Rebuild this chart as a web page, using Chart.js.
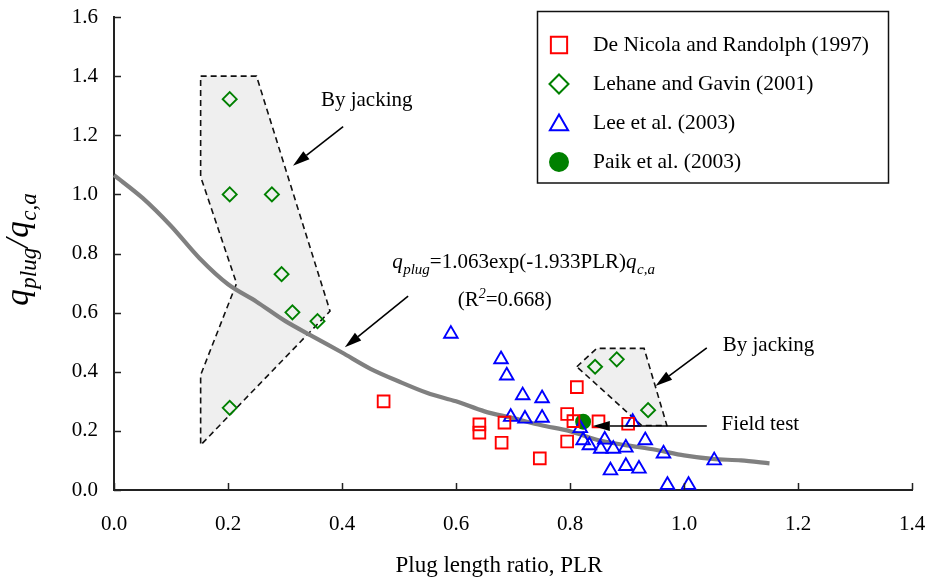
<!DOCTYPE html>
<html><head><meta charset="utf-8">
<script src="https://cdn.jsdelivr.net/npm/chart.js@4.4.1/dist/chart.umd.min.js"></script>
<style>html,body{margin:0;padding:0;background:#fff;}#wrap{width:928px;height:579px;position:relative;}</style>
</head><body><div id="wrap"><canvas id="c" width="928" height="579"></canvas></div>
<script>
// ---------------- data ----------------
const seriesNames = ['De Nicola and Randolph (1997)', 'Lehane and Gavin (2001)', 'Lee et al. (2003)', 'Paik et al. (2003)'];
const xTickLabels = ['0.0', '0.2', '0.4', '0.6', '0.8', '1.0', '1.2', '1.4'];
const yTickLabels = ['0.0', '0.2', '0.4', '0.6', '0.8', '1.0', '1.2', '1.4', '1.6'];

const deNicolaX = [0.473, 0.641, 0.641, 0.685, 0.680, 0.747, 0.812, 0.795, 0.806, 0.795, 0.850, 0.902];
const deNicolaY = [0.300, 0.222, 0.194, 0.228, 0.160, 0.107, 0.348, 0.257, 0.233, 0.164, 0.232, 0.224];

const lehaneX = [0.203, 0.203, 0.277, 0.294, 0.313, 0.357, 0.203, 0.844, 0.882, 0.937];
const lehaneY = [1.322, 1.000, 1.000, 0.730, 0.601, 0.571, 0.278, 0.417, 0.442, 0.270];

const leeX = [0.591, 0.679, 0.689, 0.717, 0.751, 0.696, 0.721, 0.751, 0.818, 0.823, 0.834, 0.861, 0.854, 0.876, 0.898, 0.910, 0.932, 0.964, 0.871, 0.898, 0.921, 1.053, 0.971, 1.008];
const leeY = [0.528, 0.442, 0.387, 0.320, 0.310, 0.247, 0.241, 0.244, 0.209, 0.168, 0.151, 0.170, 0.139, 0.139, 0.143, 0.230, 0.168, 0.123, 0.066, 0.081, 0.072, 0.100, 0.017, 0.017];

const paikX = [0.823];
const paikY = [0.231];

const fitX = [0.00, 0.05, 0.10, 0.15, 0.20, 0.25, 0.30, 0.35, 0.40, 0.45, 0.50, 0.55, 0.60, 0.65, 0.70, 0.75, 0.80, 0.85, 0.90, 0.95, 1.00, 1.05, 1.10, 1.15];
const fitY = [1.065, 0.988, 0.893, 0.784, 0.696, 0.637, 0.572, 0.518, 0.465, 0.410, 0.367, 0.328, 0.300, 0.266, 0.243, 0.219, 0.199, 0.168, 0.151, 0.136, 0.117, 0.105, 0.100, 0.090];

const jack1X = [0.152, 0.250, 0.379, 0.152, 0.152, 0.215, 0.152, 0.152];
const jack1Y = [1.400, 1.400, 0.605, 0.152, 0.389, 0.699, 1.060, 1.400];
const jack2X = [0.812, 0.847, 0.930, 0.970, 0.926, 0.812];
const jack2Y = [0.417, 0.479, 0.479, 0.218, 0.218, 0.417];

// ---------------- layout / styles ----------------
const SERIF = '"Liberation Serif", "Times New Roman", serif';
const zip = (xs, ys) => xs.map((x, i) => ({x: x, y: ys[i]}));

const notes = {
  arrows: [
    {from: [0.402, 1.229], to: [0.314, 1.097]},
    {from: [0.516, 0.656], to: [0.405, 0.483]},
    {from: [1.040, 0.481], to: [0.950, 0.352]},
    {from: [1.040, 0.2165], to: [0.840, 0.2165]}
  ],
  texts: [
    {t: 'By jacking', at: [0.363, 1.299]},
    {t: 'By jacking', at: [1.068, 0.470]},
    {t: 'Field test', at: [1.066, 0.203]}
  ],
  eqAt: [0.488, 0.751],
  r2At: [0.603, 0.622]
};

const markerStyles = [
  {pointStyle: 'rect', color: '#ff0000', fill: 'rgba(0,0,0,0)', r: 8.3, lr: 11.5},
  {pointStyle: 'rectRot', color: '#008000', fill: 'rgba(0,0,0,0)', r: 7, lr: 9.5},
  {pointStyle: 'triangle', color: '#0000ff', fill: 'rgba(0,0,0,0)', r: 7.8, lr: 10.5},
  {pointStyle: 'circle', color: '#008000', fill: '#008000', r: 7, lr: 9}
];
const seriesData = [zip(deNicolaX, deNicolaY), zip(lehaneX, lehaneY), zip(leeX, leeY), zip(paikX, paikY)];

const markerDatasets = seriesData.map((d, i) => ({
  type: 'scatter',
  label: seriesNames[i],
  data: d,
  pointStyle: markerStyles[i].pointStyle,
  pointRadius: markerStyles[i].r,
  pointHoverRadius: markerStyles[i].r,
  borderColor: markerStyles[i].color,
  backgroundColor: markerStyles[i].fill,
  pointBorderWidth: 1.9,
  borderWidth: 1.9,
  clip: false,
  order: i
}));

const polyStyle = {
  type: 'line', borderColor: '#111', borderWidth: 1.6, borderDash: [6, 4],
  backgroundColor: '#efefef', fill: 'shape', pointRadius: 0, tension: 0, clip: false, order: 20
};

const datasets = [
  ...markerDatasets,
  {type: 'line', label: 'fit', data: zip(fitX, fitY), borderColor: '#808080', borderWidth: 4.2,
   pointRadius: 0, fill: false, tension: 0.3, clip: false, order: 10},
  Object.assign({label: 'jack1', data: zip(jack1X, jack1Y)}, polyStyle),
  Object.assign({label: 'jack2', data: zip(jack2X, jack2Y)}, polyStyle)
];

function drawRich(ctx, x, y, segs) {
  let cx = x;
  segs.forEach(s => {
    ctx.font = s.f;
    ctx.fillText(s.t, cx, y + (s.dy || 0));
    cx += ctx.measureText(s.t).width + (s.gap || 0);
  });
  return cx - x;
}
function measureRich(ctx, segs) {
  let w = 0;
  segs.forEach(s => { ctx.font = s.f; w += ctx.measureText(s.t).width + (s.gap || 0); });
  return w;
}
function arrow(ctx, x1, y1, x2, y2) {
  const ang = Math.atan2(y2 - y1, x2 - x1);
  const L = 17, W = 5;
  const bx = x2 - L * Math.cos(ang), by = y2 - L * Math.sin(ang);
  ctx.strokeStyle = '#000'; ctx.lineWidth = 1.6; ctx.setLineDash([]);
  ctx.beginPath(); ctx.moveTo(x1, y1); ctx.lineTo(bx, by); ctx.stroke();
  ctx.fillStyle = '#000';
  ctx.beginPath();
  ctx.moveTo(x2, y2);
  ctx.lineTo(bx + W * Math.sin(ang), by - W * Math.cos(ang));
  ctx.lineTo(bx - W * Math.sin(ang), by + W * Math.cos(ang));
  ctx.closePath(); ctx.fill();
}

const decor = {
  id: 'decor',
  afterDraw(chart) {
    const ctx = chart.ctx, xs = chart.scales.x, ys = chart.scales.y, a = chart.chartArea;
    const P = (p) => [xs.getPixelForValue(p[0]), ys.getPixelForValue(p[1])];
    ctx.save();
    // inward ticks
    ctx.strokeStyle = '#222'; ctx.lineWidth = 1.5;
    xs.ticks.forEach(t => { const p = Math.round(xs.getPixelForValue(t.value)) + 0.5; ctx.beginPath(); ctx.moveTo(p, a.bottom); ctx.lineTo(p, a.bottom - 7); ctx.stroke(); });
    ys.ticks.forEach(t => { const p = Math.round(ys.getPixelForValue(t.value)) + 0.5; ctx.beginPath(); ctx.moveTo(a.left, p); ctx.lineTo(a.left + 7, p); ctx.stroke(); });
    // arrows
    notes.arrows.forEach(ar => { const f = P(ar.from), t = P(ar.to); arrow(ctx, f[0], f[1], t[0], t[1]); });
    // texts
    ctx.fillStyle = '#000'; ctx.textBaseline = 'alphabetic'; ctx.textAlign = 'left';
    ctx.font = '21px ' + SERIF;
    notes.texts.forEach(n => { const p = P(n.at); ctx.fillText(n.t, p[0], p[1]); });
    // equation
    const e = P(notes.eqAt);
    drawRich(ctx, e[0], e[1], [
      {t: 'q', f: 'italic 21px ' + SERIF, gap: 0.5},
      {t: 'plug', f: 'italic 15px ' + SERIF, dy: 6},
      {t: '=1.063exp(-1.933PLR)', f: '21px ' + SERIF},
      {t: 'q', f: 'italic 21px ' + SERIF, gap: 0.5},
      {t: 'c,a', f: 'italic 15px ' + SERIF, dy: 6}
    ]);
    const r = P(notes.r2At);
    drawRich(ctx, r[0], r[1], [
      {t: '(R', f: '21px ' + SERIF},
      {t: '2', f: 'italic 14px ' + SERIF, dy: -8},
      {t: '=0.668)', f: '21px ' + SERIF}
    ]);
    // x axis title
    ctx.font = '23px ' + SERIF; ctx.textAlign = 'center';
    ctx.fillText('Plug length ratio, PLR', (a.left + a.right) / 2 - 14, a.bottom + 82);
    // y axis title (rotated)
    const ySegs = [
      {t: 'q', f: 'italic 33px ' + SERIF, gap: 0.5},
      {t: 'plug', f: 'italic 23px ' + SERIF, dy: 8},
      {t: '/', f: 'italic 33px ' + SERIF, gap: 1},
      {t: 'q', f: 'italic 33px ' + SERIF, gap: 0.5},
      {t: 'c,a', f: 'italic 23px ' + SERIF, dy: 8}
    ];
    ctx.save();
    ctx.textAlign = 'left';
    ctx.translate(a.left - 86, (a.top + a.bottom) / 2 - 4);
    ctx.rotate(-Math.PI / 2);
    const w = measureRich(ctx, ySegs);
    drawRich(ctx, -w / 2, 0, ySegs);
    ctx.restore();
    // legend
    const lx = a.right - 375, ly = a.top - 6.5, lw = 351, lh = 171.5;
    ctx.setLineDash([]); ctx.strokeStyle = '#111'; ctx.lineWidth = 1.5;
    ctx.strokeRect(Math.round(lx) + 0.5, Math.round(ly) + 0.5, lw, lh);
    ctx.textAlign = 'left'; ctx.textBaseline = 'middle'; ctx.font = '21.5px ' + SERIF;
    seriesNames.forEach((nm, i) => {
      const cy = ly + 34.5 + i * 39;
      const ms = markerStyles[i];
      ctx.strokeStyle = ms.color; ctx.fillStyle = ms.fill; ctx.lineWidth = 2;
      Chart.helpers.drawPoint(ctx, {pointStyle: ms.pointStyle, radius: ms.lr, rotation: 0, borderWidth: 2}, lx + 22, cy + (ms.pointStyle === 'triangle' ? 2 : 0));
      ctx.fillStyle = '#000';
      ctx.fillText(nm, lx + 56, cy);
    });
    ctx.restore();
  }
};

const tickFont = {family: SERIF, size: 21};
new Chart(document.getElementById('c'), {
  type: 'scatter',
  data: {datasets: datasets},
  options: {
    responsive: false, animation: false, devicePixelRatio: 1,
    layout: {padding: {top: 17, right: 16, left: 0, bottom: 0}},
    plugins: {legend: {display: false}, tooltip: {enabled: false}},
    scales: {
      x: {
        type: 'linear', min: 0, max: 1.4,
        grid: {display: false, drawTicks: false},
        border: {display: true, color: '#222', width: 2},
        ticks: {stepSize: 0.2, color: '#000', font: tickFont, padding: 22, maxRotation: 0,
                callback: (v, i) => xTickLabels[i]},
        afterFit: s => { s.height = 89; s.paddingLeft = 0; s.paddingRight = 0; s.paddingTop = 0; s.paddingBottom = 0; }
      },
      y: {
        type: 'linear', min: 0, max: 1.6,
        grid: {display: false, drawTicks: false},
        border: {display: true, color: '#222', width: 2},
        ticks: {stepSize: 0.2, color: '#000', font: tickFont, padding: 16,
                callback: (v, i) => yTickLabels[i]},
        afterFit: s => { s.width = 114; s.paddingLeft = 0; s.paddingRight = 0; s.paddingTop = 0; s.paddingBottom = 0; }
      }
    }
  },
  plugins: [decor]
});
</script>
</body></html>
